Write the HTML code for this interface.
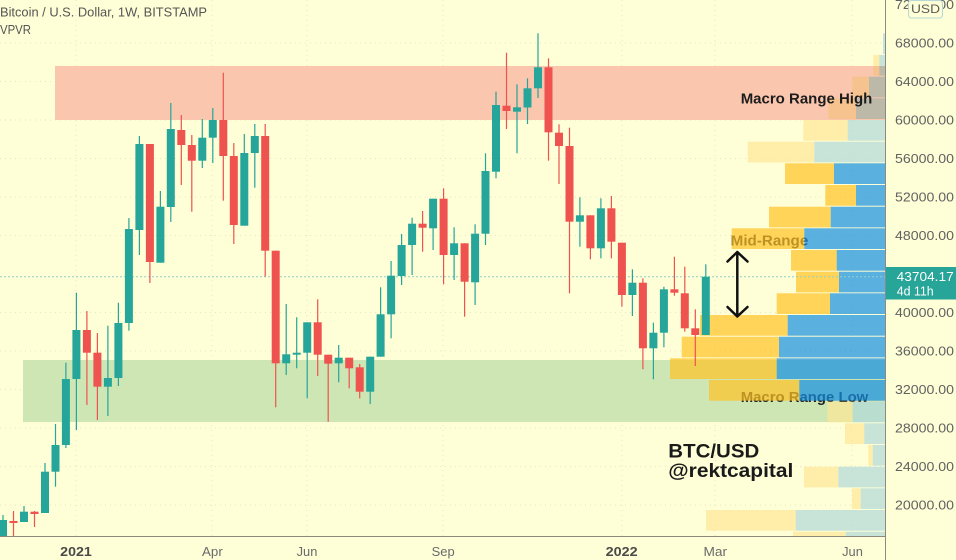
<!DOCTYPE html>
<html><head><meta charset="utf-8"><style>
html,body{margin:0;padding:0;background:#fefed7;}
svg{display:block;font-family:"Liberation Sans",sans-serif;}
</style></head><body>
<svg width="956" height="560" viewBox="0 0 956 560" xmlns="http://www.w3.org/2000/svg">
<rect x="0" y="0" width="956" height="560" fill="#fefed7"/>
<!-- grid -->
<g stroke="#e7e6c2" stroke-width="1" stroke-dasharray="1 4">
<line x1="0" y1="43" x2="885" y2="43"/><line x1="0" y1="81.5" x2="885" y2="81.5"/><line x1="0" y1="120" x2="885" y2="120"/><line x1="0" y1="158.5" x2="885" y2="158.5"/><line x1="0" y1="197" x2="885" y2="197"/><line x1="0" y1="235.5" x2="885" y2="235.5"/><line x1="0" y1="312.5" x2="885" y2="312.5"/><line x1="0" y1="351" x2="885" y2="351"/><line x1="0" y1="389.5" x2="885" y2="389.5"/><line x1="0" y1="428" x2="885" y2="428"/><line x1="0" y1="466.5" x2="885" y2="466.5"/><line x1="0" y1="505" x2="885" y2="505"/>
<line x1="76" y1="0" x2="76" y2="536"/><line x1="212" y1="0" x2="212" y2="536"/><line x1="307" y1="0" x2="307" y2="536"/><line x1="443" y1="0" x2="443" y2="536"/><line x1="622" y1="0" x2="622" y2="536"/><line x1="715" y1="0" x2="715" y2="536"/><line x1="852" y1="0" x2="852" y2="536"/>
</g>
<!-- zones -->
<rect x="55" y="66" width="831" height="54" fill="#fac6ae"/>
<rect x="23" y="360" width="863" height="62" fill="#cde6b4"/>
<!-- texts under VPVR -->
<text x="730.7" y="245.5" font-size="15" font-weight="bold" fill="#222" textLength="77.6" lengthAdjust="spacingAndGlyphs">Mid-Range</text>
<text x="740.7" y="402" font-size="15" font-weight="bold" fill="#222" textLength="127.6" lengthAdjust="spacingAndGlyphs">Macro Range Low</text>
<!-- VPVR -->
<g fill-opacity="0.7">
<rect x="883" y="33.3" width="2.5" height="20.7" fill="#b1d9d8"/>
<rect x="873.3" y="55" width="6" height="11" fill="#fde796"/><rect x="879.3" y="55" width="6.2" height="11" fill="#b1d9d8"/>
<rect x="803.3" y="120" width="44.4" height="20.7" fill="#fde796"/><rect x="847.7" y="120" width="37.8" height="20.7" fill="#b1d9d8"/>
<rect x="747.7" y="141.7" width="66.6" height="20.7" fill="#fde796"/><rect x="814.3" y="141.7" width="71.2" height="20.7" fill="#b1d9d8"/>
<rect x="785" y="163.3" width="49" height="20.7" fill="#ffc224"/><rect x="834" y="163.3" width="51.5" height="20.7" fill="#148fe3"/>
<rect x="825.3" y="185" width="30.7" height="20.7" fill="#ffc224"/><rect x="856" y="185" width="29.5" height="20.7" fill="#148fe3"/>
<rect x="769" y="206.7" width="61.7" height="20.7" fill="#ffc224"/><rect x="830.7" y="206.7" width="54.8" height="20.7" fill="#148fe3"/>
<rect x="731.7" y="228.3" width="72.6" height="20.7" fill="#ffc224"/><rect x="804.3" y="228.3" width="81.2" height="20.7" fill="#148fe3"/>
<rect x="791" y="250" width="45.7" height="20.7" fill="#ffc224"/><rect x="836.7" y="250" width="48.8" height="20.7" fill="#148fe3"/>
<rect x="796" y="271.7" width="43" height="20.7" fill="#ffc224"/><rect x="839" y="271.7" width="46.5" height="20.7" fill="#148fe3"/>
<rect x="776.7" y="293.3" width="53.3" height="20.7" fill="#ffc224"/><rect x="830" y="293.3" width="55.5" height="20.7" fill="#148fe3"/>
<rect x="700" y="315" width="87.7" height="20.7" fill="#ffc224"/><rect x="787.7" y="315" width="97.8" height="20.7" fill="#148fe3"/>
<rect x="681.7" y="336.7" width="97.3" height="20.7" fill="#ffc224"/><rect x="779" y="336.7" width="106.5" height="20.7" fill="#148fe3"/>
<rect x="670" y="358.3" width="106.7" height="20.7" fill="#ffc224"/><rect x="776.7" y="358.3" width="108.8" height="20.7" fill="#148fe3"/>
<rect x="709" y="380" width="90.3" height="20.7" fill="#ffc224"/><rect x="799.3" y="380" width="86.2" height="20.7" fill="#148fe3"/>
<rect x="827.3" y="401.7" width="25.4" height="20.7" fill="#fde796"/><rect x="852.7" y="401.7" width="32.8" height="20.7" fill="#b1d9d8"/>
<rect x="845" y="423.3" width="19.3" height="20.7" fill="#fde796"/><rect x="864.3" y="423.3" width="21.2" height="20.7" fill="#b1d9d8"/>
<rect x="868.3" y="445" width="4.4" height="20.7" fill="#fde796"/><rect x="872.7" y="445" width="12.8" height="20.7" fill="#b1d9d8"/>
<rect x="804" y="466.7" width="34.3" height="20.7" fill="#fde796"/><rect x="838.3" y="466.7" width="47.2" height="20.7" fill="#b1d9d8"/>
<rect x="852" y="488.3" width="8.7" height="20.7" fill="#fde796"/><rect x="860.7" y="488.3" width="24.8" height="20.7" fill="#b1d9d8"/>
<rect x="706" y="510" width="89.7" height="20.7" fill="#fde796"/><rect x="795.7" y="510" width="89.8" height="20.7" fill="#b1d9d8"/>
<rect x="793" y="531.7" width="52.7" height="4.3" fill="#fde796"/><rect x="845.7" y="531.7" width="39.8" height="4.3" fill="#b1d9d8"/>
</g>
<!-- VPVR in red zone -->
<rect x="873.3" y="66" width="6" height="9.7" fill="#f6c38e"/><rect x="879.3" y="66" width="6.2" height="9.7" fill="#bcb9a8"/>
<rect x="852.3" y="76.7" width="16.7" height="20.7" fill="#f6c38e"/><rect x="869" y="76.7" width="16.5" height="20.7" fill="#bcb9a8"/>
<rect x="828.3" y="98.3" width="27.7" height="20.7" fill="#f6c38e"/><rect x="856" y="98.3" width="29.5" height="20.7" fill="#bcb9a8"/>
<!-- current price line -->
<line x1="0" y1="276.8" x2="885" y2="276.8" stroke="#8fcfc6" stroke-width="1" stroke-dasharray="2 2"/>
<!-- candles -->
<g fill="#26a69a">
<rect x="2.4" y="515" width="1.2" height="21"/><rect x="-1" y="520" width="8" height="16"/>
<rect x="23.4" y="506" width="1.2" height="16"/><rect x="20" y="511.7" width="8" height="10.3"/>
<rect x="44.4" y="463" width="1.2" height="50"/><rect x="41" y="471.7" width="8" height="41.3"/>
<rect x="54.9" y="424" width="1.2" height="62.7"/><rect x="51.5" y="445" width="8" height="26.7"/>
<rect x="65.3" y="362.7" width="1.2" height="85.3"/><rect x="61.9" y="379" width="8" height="66"/>
<rect x="75.8" y="292.7" width="1.2" height="137.3"/><rect x="72.4" y="330" width="8" height="49"/>
<rect x="107.3" y="325.7" width="1.2" height="90.3"/><rect x="103.9" y="378" width="8" height="8.7"/>
<rect x="117.8" y="302.7" width="1.2" height="83.3"/><rect x="114.4" y="323" width="8" height="55"/>
<rect x="128.3" y="218" width="1.2" height="112.7"/><rect x="124.9" y="229" width="8" height="94"/>
<rect x="138.8" y="136" width="1.2" height="119"/><rect x="135.4" y="144" width="8" height="86"/>
<rect x="159.8" y="191" width="1.2" height="71.7"/><rect x="156.4" y="206.7" width="8" height="56"/>
<rect x="170.2" y="103" width="1.2" height="119"/><rect x="166.8" y="129" width="8" height="78"/>
<rect x="201.7" y="119" width="1.2" height="49"/><rect x="198.3" y="137.7" width="8" height="23"/>
<rect x="212.2" y="108" width="1.2" height="55"/><rect x="208.8" y="120" width="8" height="17.7"/>
<rect x="243.7" y="134" width="1.2" height="91.7"/><rect x="240.3" y="153" width="8" height="72.7"/>
<rect x="254.2" y="124" width="1.2" height="63.7"/><rect x="250.8" y="136" width="8" height="17"/>
<rect x="285.6" y="304" width="1.2" height="71"/><rect x="282.2" y="354.3" width="8" height="9"/>
<rect x="296.1" y="317.3" width="1.2" height="51"/><rect x="292.7" y="352.7" width="8" height="2"/>
<rect x="306.6" y="322.3" width="1.2" height="76"/><rect x="303.2" y="322.3" width="8" height="30.4"/>
<rect x="338.1" y="345" width="1.2" height="37.3"/><rect x="334.7" y="357.7" width="8" height="5.6"/>
<rect x="369.6" y="356.7" width="1.2" height="47.3"/><rect x="366.2" y="356.7" width="8" height="35"/>
<rect x="380" y="287.3" width="1.2" height="69.4"/><rect x="376.6" y="314.3" width="8" height="42.4"/>
<rect x="390.5" y="261" width="1.2" height="77.3"/><rect x="387.1" y="275.7" width="8" height="38.6"/>
<rect x="401" y="234" width="1.2" height="51"/><rect x="397.6" y="245" width="8" height="31"/>
<rect x="411.5" y="217.7" width="1.2" height="57.3"/><rect x="408.1" y="223.7" width="8" height="21.3"/>
<rect x="432.5" y="198.7" width="1.2" height="51.3"/><rect x="429.1" y="198.7" width="8" height="29.6"/>
<rect x="453.5" y="227.3" width="1.2" height="52.7"/><rect x="450.1" y="243.3" width="8" height="11.7"/>
<rect x="474.5" y="224.3" width="1.2" height="80.7"/><rect x="471.1" y="233.7" width="8" height="48.6"/>
<rect x="484.9" y="153.3" width="1.2" height="91.7"/><rect x="481.5" y="171" width="8" height="62.7"/>
<rect x="495.4" y="91.7" width="1.2" height="86.6"/><rect x="492" y="105" width="8" height="66.7"/>
<rect x="516.4" y="84.3" width="1.2" height="69"/><rect x="513" y="107.3" width="8" height="4.4"/>
<rect x="526.9" y="78.3" width="1.2" height="45.7"/><rect x="523.5" y="88.3" width="8" height="19.2"/>
<rect x="537.4" y="33.3" width="1.2" height="64.7"/><rect x="534" y="67.3" width="8" height="21"/>
<rect x="579.3" y="197.3" width="1.2" height="49.4"/><rect x="575.9" y="215.3" width="8" height="6.4"/>
<rect x="600.3" y="198.3" width="1.2" height="60"/><rect x="596.9" y="208.3" width="8" height="40"/>
<rect x="631.8" y="269.3" width="1.2" height="46.7"/><rect x="628.4" y="282.7" width="8" height="12.3"/>
<rect x="652.8" y="322.7" width="1.2" height="56.6"/><rect x="649.4" y="332.7" width="8" height="15.6"/>
<rect x="663.3" y="286.7" width="1.2" height="60.6"/><rect x="659.9" y="289.3" width="8" height="43.4"/>
<rect x="705.2" y="264.3" width="1.2" height="70.7"/><rect x="701.8" y="276.7" width="8" height="58.3"/>
</g>
<g fill="#ef5350">
<rect x="12.9" y="511" width="1.2" height="25"/><rect x="9.5" y="521" width="8" height="2"/>
<rect x="33.9" y="511" width="1.2" height="16"/><rect x="30.5" y="511.7" width="8" height="2.3"/>
<rect x="86.3" y="311" width="1.2" height="94"/><rect x="82.9" y="330" width="8" height="22.7"/>
<rect x="96.8" y="333" width="1.2" height="87"/><rect x="93.4" y="352.7" width="8" height="34"/>
<rect x="149.3" y="144" width="1.2" height="139"/><rect x="145.9" y="144" width="8" height="118"/>
<rect x="180.7" y="115" width="1.2" height="70"/><rect x="177.3" y="130" width="8" height="15"/>
<rect x="191.2" y="135" width="1.2" height="76.7"/><rect x="187.8" y="145" width="8" height="15.7"/>
<rect x="222.7" y="72.7" width="1.2" height="128"/><rect x="219.3" y="120" width="8" height="36"/>
<rect x="233.2" y="143" width="1.2" height="101"/><rect x="229.8" y="156" width="8" height="69"/>
<rect x="264.6" y="124" width="1.2" height="152.7"/><rect x="261.2" y="136" width="8" height="114.7"/>
<rect x="275.1" y="250.7" width="1.2" height="156.6"/><rect x="271.7" y="250.7" width="8" height="112.6"/>
<rect x="317.1" y="299.3" width="1.2" height="76.7"/><rect x="313.7" y="322.3" width="8" height="32.4"/>
<rect x="327.6" y="354.7" width="1.2" height="67"/><rect x="324.2" y="354.7" width="8" height="9"/>
<rect x="348.6" y="357.7" width="1.2" height="30.6"/><rect x="345.2" y="357.7" width="8" height="10.6"/>
<rect x="359.1" y="364" width="1.2" height="34.3"/><rect x="355.7" y="367.3" width="8" height="24.4"/>
<rect x="422" y="211" width="1.2" height="40.7"/><rect x="418.6" y="223.7" width="8" height="4"/>
<rect x="443" y="188.3" width="1.2" height="96"/><rect x="439.6" y="198.7" width="8" height="56.3"/>
<rect x="464" y="243.3" width="1.2" height="73.4"/><rect x="460.6" y="243.3" width="8" height="38.4"/>
<rect x="505.9" y="52.7" width="1.2" height="76.3"/><rect x="502.5" y="105.7" width="8" height="5.3"/>
<rect x="547.9" y="58.3" width="1.2" height="102.4"/><rect x="544.5" y="67.3" width="8" height="65"/>
<rect x="558.4" y="124.3" width="1.2" height="59.7"/><rect x="555" y="132.7" width="8" height="13.3"/>
<rect x="568.9" y="127.7" width="1.2" height="165.6"/><rect x="565.5" y="146" width="8" height="75.7"/>
<rect x="589.8" y="215.3" width="1.2" height="44"/><rect x="586.4" y="215.3" width="8" height="33"/>
<rect x="610.8" y="196" width="1.2" height="62.3"/><rect x="607.4" y="208.3" width="8" height="33.4"/>
<rect x="621.3" y="242.7" width="1.2" height="64"/><rect x="617.9" y="242.7" width="8" height="52.3"/>
<rect x="642.3" y="278.3" width="1.2" height="91"/><rect x="638.9" y="282.7" width="8" height="65.6"/>
<rect x="673.8" y="256.7" width="1.2" height="39"/><rect x="670.4" y="289.3" width="8" height="3.4"/>
<rect x="684.2" y="266.7" width="1.2" height="65"/><rect x="680.8" y="293.3" width="8" height="35"/>
<rect x="694.7" y="309.3" width="1.2" height="56.7"/><rect x="691.3" y="328.3" width="8" height="6.7"/>
</g>
<!-- annotations -->
<text x="740.7" y="103.5" font-size="15" font-weight="bold" fill="#1c1c1c" textLength="131.6" lengthAdjust="spacingAndGlyphs">Macro Range High</text>
<g stroke="#111" stroke-width="2.5" fill="none" stroke-linecap="round" stroke-linejoin="round">
<line x1="737.3" y1="253" x2="737.3" y2="316"/>
<polyline points="727.5,261.5 737.3,252 747.5,261.5"/>
<polyline points="727.5,307 737.3,316.5 747.5,307"/>
</g>
<text x="668.3" y="457.3" font-size="19" font-weight="bold" fill="#1a1a1a" textLength="91" lengthAdjust="spacingAndGlyphs">BTC/USD</text>
<text x="668.3" y="477" font-size="19" font-weight="bold" fill="#1a1a1a" textLength="125" lengthAdjust="spacingAndGlyphs">@rektcapital</text>
<!-- axes area -->
<rect x="886" y="0" width="70" height="560" fill="#fefed7"/>
<rect x="0" y="536.5" width="886" height="24" fill="#fefed7"/>
<line x1="885.5" y1="0" x2="885.5" y2="560" stroke="#8a8a80" stroke-width="1"/>
<line x1="0" y1="536.5" x2="885.5" y2="536.5" stroke="#8a8a80" stroke-width="1"/>
<g font-size="12.5" fill="#616161">
<text x="895" y="8.8" textLength="59" lengthAdjust="spacingAndGlyphs">72000.00</text>
<text x="895" y="47.3" textLength="59" lengthAdjust="spacingAndGlyphs">68000.00</text>
<text x="895" y="85.8" textLength="59" lengthAdjust="spacingAndGlyphs">64000.00</text>
<text x="895" y="124.3" textLength="59" lengthAdjust="spacingAndGlyphs">60000.00</text>
<text x="895" y="162.8" textLength="59" lengthAdjust="spacingAndGlyphs">56000.00</text>
<text x="895" y="201.3" textLength="59" lengthAdjust="spacingAndGlyphs">52000.00</text>
<text x="895" y="239.8" textLength="59" lengthAdjust="spacingAndGlyphs">48000.00</text>
<text x="895" y="316.8" textLength="59" lengthAdjust="spacingAndGlyphs">40000.00</text>
<text x="895" y="355.3" textLength="59" lengthAdjust="spacingAndGlyphs">36000.00</text>
<text x="895" y="393.8" textLength="59" lengthAdjust="spacingAndGlyphs">32000.00</text>
<text x="895" y="432.3" textLength="59" lengthAdjust="spacingAndGlyphs">28000.00</text>
<text x="895" y="470.8" textLength="59" lengthAdjust="spacingAndGlyphs">24000.00</text>
<text x="895" y="509.3" textLength="59" lengthAdjust="spacingAndGlyphs">20000.00</text>
</g>
<rect x="908.5" y="0.5" width="34" height="17.5" rx="3" fill="#fefed7" stroke="#b5d8d6" stroke-width="1"/>
<text x="925.5" y="13" font-size="12" fill="#5a5a5a" text-anchor="middle" textLength="29" lengthAdjust="spacingAndGlyphs">USD</text>
<rect x="886" y="267" width="70" height="32.5" fill="#27a598"/>
<text x="896.7" y="281" font-size="12.5" fill="#ffffff" textLength="57" lengthAdjust="spacingAndGlyphs">43704.17</text>
<text x="896.7" y="295.3" font-size="12.5" fill="#ffffff" textLength="37" lengthAdjust="spacingAndGlyphs">4d 11h</text>
<!-- time axis -->
<g font-size="12.5" fill="#6a6a6a" text-anchor="middle">
<text x="76" y="556" font-weight="bold" fill="#4a4a4a" textLength="31.6" lengthAdjust="spacingAndGlyphs">2021</text>
<text x="212.4" y="556" textLength="20.7" lengthAdjust="spacingAndGlyphs">Apr</text>
<text x="307" y="556" textLength="20.7" lengthAdjust="spacingAndGlyphs">Jun</text>
<text x="443.2" y="556" textLength="23" lengthAdjust="spacingAndGlyphs">Sep</text>
<text x="621.7" y="556" font-weight="bold" fill="#4a4a4a" textLength="32" lengthAdjust="spacingAndGlyphs">2022</text>
<text x="715.3" y="556" textLength="23.6" lengthAdjust="spacingAndGlyphs">Mar</text>
<text x="852.5" y="556" textLength="20.7" lengthAdjust="spacingAndGlyphs">Jun</text>
</g>
<!-- header -->
<text x="0" y="16.3" font-size="13" fill="#555" textLength="207" lengthAdjust="spacingAndGlyphs">Bitcoin / U.S. Dollar, 1W, BITSTAMP</text>
<text x="0" y="34" font-size="13" fill="#555" textLength="31" lengthAdjust="spacingAndGlyphs">VPVR</text>
</svg>
</body></html>
